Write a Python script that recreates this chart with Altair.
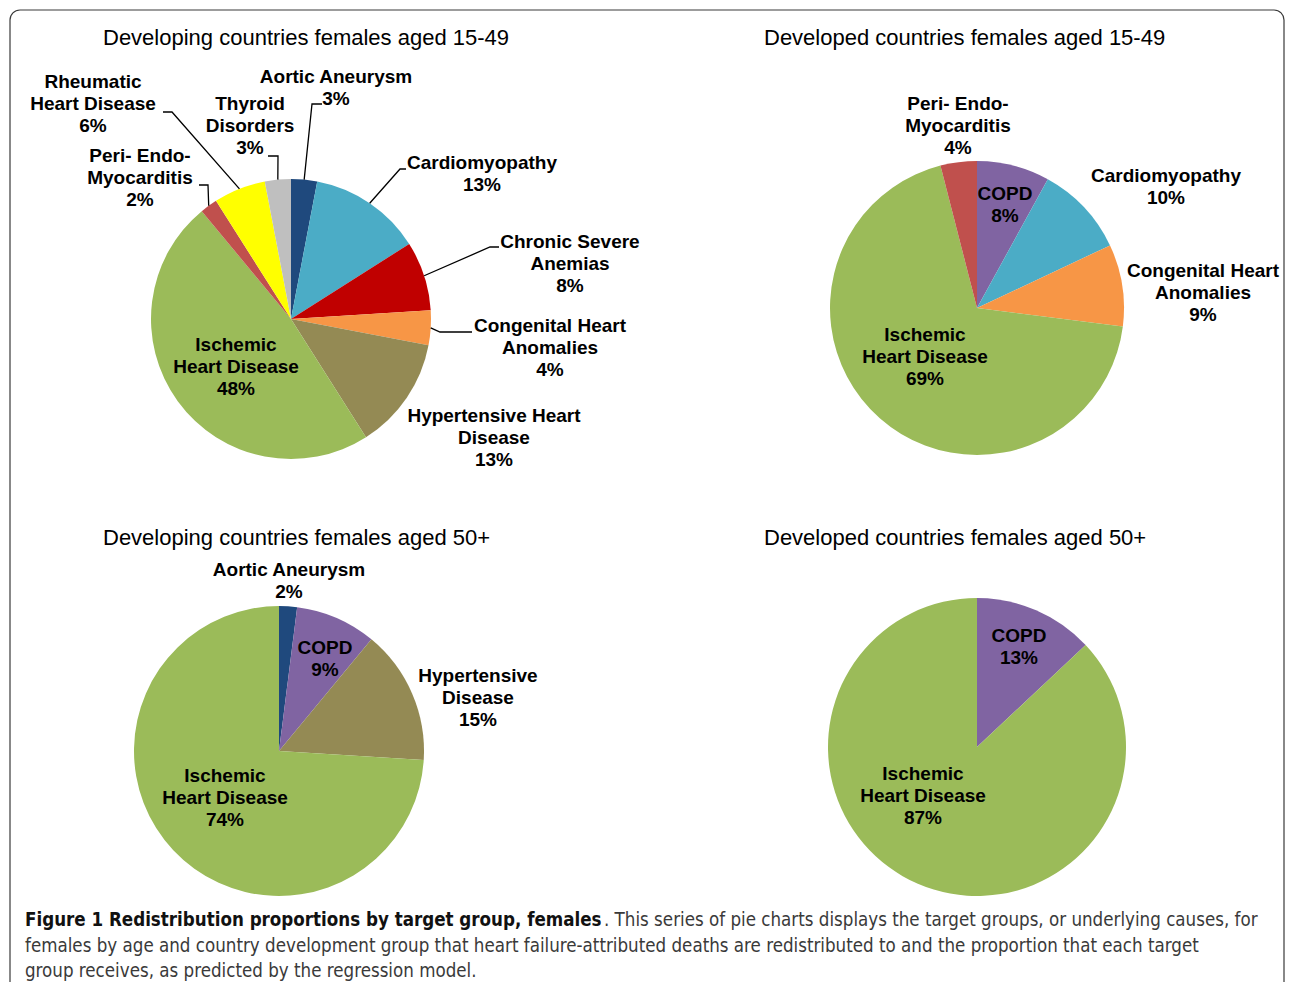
import altair as alt
import pandas as pd
import numpy as np

# ---------------- data ----------------
dev1549_causes = ["Aortic Aneurysm", "Cardiomyopathy", "Chronic Severe Anemias",
                  "Congenital Heart Anomalies", "Hypertensive Heart Disease",
                  "Ischemic Heart Disease", "Peri- Endo- Myocarditis",
                  "Rheumatic Heart Disease", "Thyroid Disorders"]
dev1549_values = [3, 13, 8, 4, 13, 48, 2, 6, 3]

ded1549_causes = ["COPD", "Cardiomyopathy", "Congenital Heart Anomalies",
                  "Ischemic Heart Disease", "Peri- Endo- Myocarditis"]
ded1549_values = [8, 10, 9, 69, 4]

dev50_causes = ["Aortic Aneurysm", "COPD", "Hypertensive Disease", "Ischemic Heart Disease"]
dev50_values = [2, 9, 15, 74]

ded50_causes = ["COPD", "Ischemic Heart Disease"]
ded50_values = [13, 87]

titles = ["Developing countries females aged 15-49",
          "Developed countries females aged 15-49",
          "Developing countries females aged 50+",
          "Developed countries females aged 50+"]

caption_bold = "Figure 1 Redistribution proportions by target group, females"
caption_rest = [". This series of pie charts displays the target groups, or underlying causes, for",
                "females by age and country development group that heart failure-attributed deaths are redistributed to and the proportion that each target",
                "group receives, as predicted by the regression model."]

colors = {
    "Aortic Aneurysm": "#1F497D",
    "Cardiomyopathy": "#4BACC6",
    "Chronic Severe Anemias": "#C00000",
    "Congenital Heart Anomalies": "#F79646",
    "Hypertensive Heart Disease": "#948A54",
    "Hypertensive Disease": "#948A54",
    "Ischemic Heart Disease": "#9BBB59",
    "Peri- Endo- Myocarditis": "#C0504D",
    "Rheumatic Heart Disease": "#FFFF00",
    "Thyroid Disorders": "#BFBFBF",
    "COPD": "#8064A2",
}

label_lines = {
    "Aortic Aneurysm": ["Aortic Aneurysm"],
    "Cardiomyopathy": ["Cardiomyopathy"],
    "Chronic Severe Anemias": ["Chronic Severe", "Anemias"],
    "Congenital Heart Anomalies": ["Congenital Heart", "Anomalies"],
    "Hypertensive Heart Disease": ["Hypertensive Heart", "Disease"],
    "Hypertensive Disease": ["Hypertensive", "Disease"],
    "Ischemic Heart Disease": ["Ischemic", "Heart Disease"],
    "Peri- Endo- Myocarditis": ["Peri- Endo-", "Myocarditis"],
    "Rheumatic Heart Disease": ["Rheumatic", "Heart Disease"],
    "Thyroid Disorders": ["Thyroid", "Disorders"],
    "COPD": ["COPD"],
}

# ---------------- layout (page pixel coordinates) ----------------
W, H = 1277, 974
pies = [
    dict(causes=dev1549_causes, values=dev1549_values, cx=291, cy=319, r=140, tx=103, ty=38,
         labels={"Aortic Aneurysm": (336, 77), "Thyroid Disorders": (250, 104),
                 "Rheumatic Heart Disease": (93, 82), "Peri- Endo- Myocarditis": (140, 156),
                 "Cardiomyopathy": (482, 163), "Chronic Severe Anemias": (570, 242),
                 "Congenital Heart Anomalies": (550, 326), "Hypertensive Heart Disease": (494, 416),
                 "Ischemic Heart Disease": (236, 345)},
         leaders={"Aortic Aneurysm": [(312, 104), (322, 104)],
                  "Thyroid Disorders": [(278, 156), (268, 156)],
                  "Rheumatic Heart Disease": [(172, 112), (163, 112)],
                  "Peri- Endo- Myocarditis": [(208, 185), (199, 185)],
                  "Cardiomyopathy": [(400, 169), (406, 169)],
                  "Chronic Severe Anemias": [(490, 247), (499, 247)],
                  "Congenital Heart Anomalies": [(440, 332), (472, 332)]}),
    dict(causes=ded1549_causes, values=ded1549_values, cx=977, cy=308, r=147, tx=764, ty=38,
         labels={"Peri- Endo- Myocarditis": (958, 104), "COPD": (1005, 194),
                 "Cardiomyopathy": (1166, 176), "Congenital Heart Anomalies": (1203, 271),
                 "Ischemic Heart Disease": (925, 335)},
         leaders={}),
    dict(causes=dev50_causes, values=dev50_values, cx=279, cy=751, r=145, tx=103, ty=538,
         labels={"Aortic Aneurysm": (289, 570), "COPD": (325, 648),
                 "Hypertensive Disease": (478, 676), "Ischemic Heart Disease": (225, 776)},
         leaders={}),
    dict(causes=ded50_causes, values=ded50_values, cx=977, cy=747, r=149, tx=764, ty=538,
         labels={"COPD": (1019, 636), "Ischemic Heart Disease": (923, 774)},
         leaders={}),
]

arc_rows, text_rows, line_rows, title_rows = [], [], [], []
for pi, p in enumerate(pies):
    total = float(sum(p["values"]))
    cum = 0.0
    title_rows.append(dict(x=p["tx"], y=p["ty"], text=titles[pi]))
    for c, v in zip(p["causes"], p["values"]):
        t0 = 2 * np.pi * cum / total
        t1 = 2 * np.pi * (cum + v) / total
        cum += v
        arc_rows.append(dict(pie=pi, cause=c, x=p["cx"], y=p["cy"], t0=t0, t1=t1,
                             r=p["r"], color=colors[c]))
        lx, ly = p["labels"][c]
        lines = label_lines[c] + [f"{v}%"]
        for i, s in enumerate(lines):
            text_rows.append(dict(x=lx, y=ly + 22 * i, text=s))
        if c in p["leaders"]:
            mid = (t0 + t1) / 2
            pts = [(p["cx"] + p["r"] * np.sin(mid), p["cy"] - p["r"] * np.cos(mid))] + p["leaders"][c]
            for k, (px, py) in enumerate(pts):
                line_rows.append(dict(lid=f"{pi}-{c}", k=k, x=px, y=py))

arcs = pd.DataFrame(arc_rows)
texts = pd.DataFrame(text_rows)
lines_df = pd.DataFrame(line_rows)
titles_df = pd.DataFrame(title_rows)

xs = alt.Scale(domain=[8, 8 + W], range=[0, W], nice=False, zero=False)
ys = alt.Scale(domain=[8, 8 + H], range=[0, H], nice=False, zero=False)
X = lambda f="x": alt.X(f"{f}:Q", scale=xs, axis=None)
Y = lambda f="y": alt.Y(f"{f}:Q", scale=ys, axis=None)

border = alt.Chart(pd.DataFrame({"a": [0]})).mark_rect(
    fill="white", fillOpacity=0, stroke="#3a3a3a", strokeWidth=1.2, cornerRadius=10
).encode(x=alt.value(2), x2=alt.value(1276), y=alt.value(2), y2=alt.value(1100))

pie_layer = alt.Chart(arcs).mark_arc(stroke=None).encode(
    x=X(), y=Y(),
    theta=alt.Theta("t0:Q", scale=None, stack=False),
    theta2=alt.Theta2("t1:Q"),
    radius=alt.Radius("r:Q", scale=None),
    color=alt.Color("color:N", scale=None),
    detail="cause:N",
)

leader_layer = alt.Chart(lines_df).mark_line(color="black", strokeWidth=1.3).encode(
    x=X(), y=Y(), detail="lid:N", order="k:Q"
)

label_layer = alt.Chart(texts).mark_text(
    font="Liberation Sans", fontWeight="bold", fontSize=19, align="center",
    baseline="middle", color="black"
).encode(x=X(), y=Y(), text="text:N")

title_layer = alt.Chart(titles_df).mark_text(
    font="Liberation Sans", fontSize=22, align="left", baseline="middle", color="black"
).encode(x=X(), y=Y(), text="text:N")

cap_font = "DejaVu Sans Condensed, Liberation Sans Narrow, Open Sans"
cap_bold = alt.Chart(pd.DataFrame({"x": [25], "y": [920], "text": [caption_bold]})).mark_text(
    font=cap_font, fontWeight="bold", fontSize=18.6, align="left", baseline="middle", color="#111111"
).encode(x=X(), y=Y(), text="text:N")

cap_rest_df = pd.DataFrame({"x": [604, 25, 25], "y": [920, 946, 971], "text": caption_rest})
cap_rest = alt.Chart(cap_rest_df).mark_text(
    font=cap_font, fontSize=18.6, align="left", baseline="middle", color="#3a3a3a"
).encode(x=X(), y=Y(), text="text:N")

chart = alt.layer(border, pie_layer, leader_layer, label_layer, title_layer, cap_bold, cap_rest).properties(
    width=W, height=H, autosize=alt.AutoSizeParams(type="none"), padding=0
).configure_view(stroke=None)

chart.save("out.html", embed_options={"renderer": "svg", "actions": False})
